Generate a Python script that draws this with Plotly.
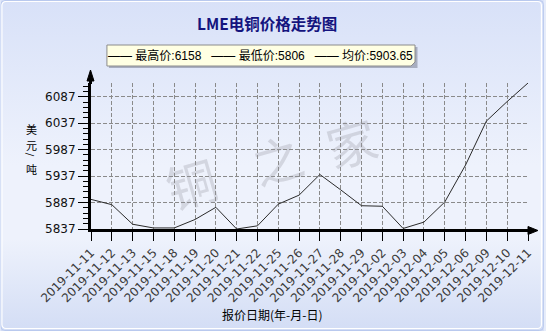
import base64
import plotly.graph_objects as go

# ---------------- data ----------------
dates = ["2019-11-11", "2019-11-12", "2019-11-13", "2019-11-15", "2019-11-18",
         "2019-11-19", "2019-11-20", "2019-11-21", "2019-11-22", "2019-11-25",
         "2019-11-26", "2019-11-27", "2019-11-28", "2019-11-29", "2019-12-02",
         "2019-12-03", "2019-12-04", "2019-12-05", "2019-12-06", "2019-12-09",
         "2019-12-10", "2019-12-11"]
prices = [5893, 5883, 5846, 5839, 5839, 5855, 5878, 5837, 5843, 5884,
          5901, 5940, 5911, 5881, 5880, 5838, 5850, 5888, 5958, 6041,
          6078, 6113]
y_tickvals = [5837, 5887, 5937, 5987, 6037, 6087]
stat_max = "6158"
stat_min = "5806"
stat_avg = "5903.65"
title_text = "LME电铜价格走势图"
x_title = "报价日期(年-月-日)"
y_title_chars = ["美", "元", "/", "吨"]
watermark = ["铜", "之", "家"]

# ---------------- geometry ----------------
W, H = 546, 331
ML, MR, MT, MB = 91, 16, 83, 102
PW, PH = W - ML - MR, H - MT - MB


def px(x):
    return (x - ML) / PW


def py(y):
    return (H - MB - y) / PH


# background gradient + border as svg image
svg = f'''<svg xmlns="http://www.w3.org/2000/svg" width="{W}" height="{H}" viewBox="0 0 {W} {H}">
<defs><linearGradient id="g" x1="0" y1="0" x2="0" y2="1">
<stop offset="0" stop-color="#d8e1f8"/>
<stop offset="0.5" stop-color="#eef2fc"/>
<stop offset="0.72" stop-color="#eef2fc"/>
<stop offset="1" stop-color="#d3ddf5"/>
</linearGradient></defs>
<rect x="0" y="0" width="{W}" height="{H}" fill="url(#g)"/>
<rect x="0.5" y="0.5" width="{W-1}" height="{H-1}" rx="4" fill="none" stroke="#b9c9ee" stroke-width="1"/>
<rect x="1.5" y="1.5" width="{W-4}" height="{H-4}" rx="4" fill="none" stroke="#ffffff" stroke-width="1.2"/>
</svg>'''
svg_uri = "data:image/svg+xml;base64," + base64.b64encode(svg.encode()).decode()

fig = go.Figure()
fig.add_trace(go.Scatter(
    x=list(range(len(dates))), y=prices, mode="lines",
    line=dict(color="#2a2a2a", width=1), hoverinfo="skip", showlegend=False))

tick_font = dict(family="DejaVu Sans", size=12, color="#111111")

fig.update_layout(
    width=W, height=H,
    margin=dict(l=ML, r=MR, t=MT, b=MB, pad=0),
    paper_bgcolor="#e6ecfa",
    plot_bgcolor="rgba(0,0,0,0)",
    showlegend=False,
    xaxis=dict(
        range=[0, len(dates) - 1],
        tickmode="array", tickvals=list(range(len(dates))), ticktext=dates,
        tickangle=-45, tickfont=dict(family="DejaVu Sans", size=12, color="#3a3a3a"),
        ticks="outside", ticklen=9, tickcolor="#000000", tickwidth=1,
        showgrid=True, gridcolor="#8a8a8a", gridwidth=1, griddash="4px,2px",
        showline=True, linecolor="#000000", linewidth=3,
        zeroline=False, fixedrange=True,
    ),
    yaxis=dict(
        range=[5837, 6113],
        tickmode="array", tickvals=y_tickvals,
        ticktext=[str(v) for v in y_tickvals],
        tickfont=tick_font,
        ticks="outside", ticklen=10, tickcolor="#000000", tickwidth=1,
        minor=dict(tickmode="linear", tick0=5837, dtick=10, ticks="outside",
                   ticklen=5, tickcolor="#000000", showgrid=False),
        showgrid=True, gridcolor="#8a8a8a", gridwidth=1, griddash="4px,2px",
        showline=True, linecolor="#000000", linewidth=3,
        zeroline=False, fixedrange=True,
    ),
    images=[dict(source=svg_uri, xref="paper", yref="paper",
                 x=px(0), y=py(0), sizex=W / PW, sizey=H / PH,
                 xanchor="left", yanchor="top", sizing="stretch", layer="below")],
)

shapes = []
# y axis extension and arrow
shapes.append(dict(type="line", xref="paper", yref="paper",
                   x0=px(90.5), x1=px(90.5), y0=py(84), y1=py(78),
                   line=dict(color="#000000", width=3)))
shapes.append(dict(type="path", xref="paper", yref="paper",
                   path=f"M {px(87)},{py(81)} L {px(90.5)},{py(70)} L {px(94)},{py(81)} Z",
                   fillcolor="#000000", line=dict(color="#000000", width=1)))
# x axis arrow
shapes.append(dict(type="line", xref="paper", yref="paper",
                   x0=px(529), x1=px(532), y0=py(230.5), y1=py(230.5),
                   line=dict(color="#000000", width=3)))
shapes.append(dict(type="path", xref="paper", yref="paper",
                   path=f"M {px(530)},{py(226.5)} L {px(540)},{py(230.5)} L {px(530)},{py(234.5)} Z",
                   fillcolor="#000000", line=dict(color="#000000", width=1)))
# legend shadow and box
shapes.append(dict(type="rect", xref="paper", yref="paper",
                   x0=px(109), x1=px(419), y0=py(47), y1=py(68),
                   fillcolor="#a8aec0", line=dict(width=0), layer="above"))
shapes.append(dict(type="path", xref="paper", yref="paper",
                   path=(f"M {px(107)},{py(45)} L {px(416.5)},{py(45)} L {px(416.5)},{py(62)} "
                         f"L {px(412.5)},{py(66)} L {px(107)},{py(66)} Z"),
                   fillcolor="#ffffe3", line=dict(color="#8c8c8c", width=1), layer="above"))
fig.update_layout(shapes=shapes)

ann = []
# watermark (drawn first, behind other text)
for ch, (xx, yy) in zip(watermark, [(191, 182), (278, 158), (352, 141)]):
    ann.append(dict(text=ch, x=px(xx), y=py(yy), xref="paper", yref="paper",
                    showarrow=False, xanchor="center", yanchor="middle", textangle=-16,
                    font=dict(family="Noto Sans CJK SC", size=50, color="rgba(150,150,158,0.3)")))
# title
ann.append(dict(text=f"<b>{title_text}</b>", x=px(267.5), y=py(23), xref="paper", yref="paper",
                showarrow=False, xanchor="center", yanchor="middle",
                font=dict(family="Noto Sans CJK SC", size=15.5, color="#14147e")))
# legend text
leg = f"—— 最高价:{stat_max}   —— 最低价:{stat_min}   —— 均价:{stat_avg}"
ann.append(dict(text=leg, x=px(261.5), y=py(56), xref="paper", yref="paper",
                showarrow=False, xanchor="center", yanchor="middle",
                font=dict(family="Liberation Sans, Noto Sans CJK SC", size=12, color="#000000")))
# y title stacked vertically, one character per annotation
for ch, yy in zip(y_title_chars, [129, 145, 155, 169]):
    is_slash = ch == "/"
    ann.append(dict(text=ch, x=px(31), y=py(yy), xref="paper", yref="paper",
                    showarrow=False, xanchor="center", yanchor="middle",
                    textangle=90 if is_slash else 0,
                    font=dict(family="Noto Sans CJK SC", size=9 if is_slash else 11,
                              color="#000000")))
# x title
ann.append(dict(text=x_title, x=px(272.5), y=py(314), xref="paper", yref="paper",
                showarrow=False, xanchor="center", yanchor="middle",
                font=dict(family="Noto Sans CJK SC", size=12, color="#000000")))
fig.update_layout(annotations=ann)

fig.write_html("out.html")
